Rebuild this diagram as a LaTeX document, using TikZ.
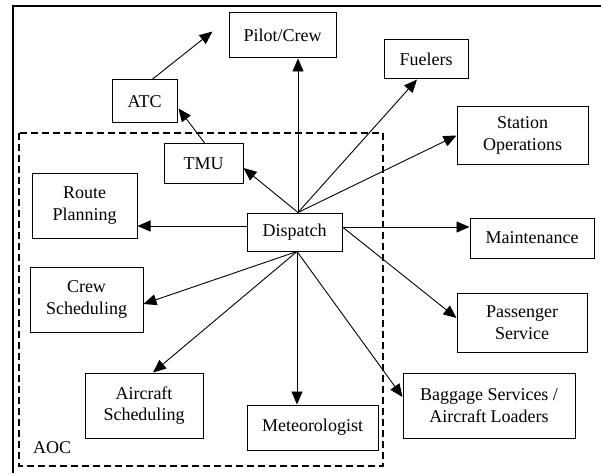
\documentclass[tikz,border=0pt]{standalone}
\usepackage{fontspec}
\setmainfont{Liberation Serif}
\usetikzlibrary{arrows.meta,calc}
\begin{document}
\begin{tikzpicture}[x=1pt,y=-1pt,
  box/.style={draw, line width=1pt, inner sep=0pt, align=center,
    font=\fontsize{18}{21.5}\selectfont},
  arr/.style={line width=0.9pt, -{Triangle[length=13pt,width=11pt]}},
  frame/.style={line width=1.4pt},
  aoc/.style={draw, line width=1.4pt, dash pattern=on 7pt off 4pt}]
\useasboundingbox (0,0) rectangle (601,473);
\draw[frame] (601,6) -- (13,6) -- (13,473);
\draw[aoc] (19,133) rectangle (383,466);
\node[anchor=base west, inner sep=0pt, font=\fontsize{18}{21.5}\selectfont] (aoclbl) at (33,453) {AOC};
% nodes
\node[box, minimum width=107pt, minimum height=45pt] (pilot) at (282.5,35.5) {Pilot/Crew};
\node[box, minimum width=65pt, minimum height=43pt] (atc) at (144.5,101.5) {ATC};
\node[box, minimum width=79pt, minimum height=39pt] (tmu) at (203.5,163.5) {TMU};
\node[box, minimum width=105pt, minimum height=65pt] (route) at (84.5,205.5) {Route\\Planning};
\node[box, minimum width=95pt, minimum height=38pt] (disp) at (294.5,232) {Dispatch};
\node[box, minimum width=84pt, minimum height=39pt] (fuel) at (426,59.5) {Fuelers};
\node[box, minimum width=131pt, minimum height=57pt] (stat) at (522.5,135.5) {Station\\Operations};
\node[box, minimum width=124pt, minimum height=40pt] (maint) at (532,238) {Maintenance};
\node[box, minimum width=130pt, minimum height=59pt] (pass) at (522,322.5) {Passenger\\Service};
\node[box, minimum width=172pt, minimum height=65pt] (bag) at (489,405.5) {Baggage Services /\\Aircraft Loaders};
\node[box, minimum width=131pt, minimum height=45pt] (met) at (312.5,427.5) {Meteorologist};
\node[box, minimum width=118pt, minimum height=65pt] (acs) at (144,405.5) {Aircraft\\Scheduling};
\node[box, minimum width=113pt, minimum height=65pt] (crew) at (86.5,299.5) {Crew\\Scheduling};
% anchor points on Dispatch
\coordinate (dt) at ($(disp.north)+(3.5,0)$);
\coordinate (db) at ($(disp.south)+(2.5,0)$);
\coordinate (dl) at ($(disp.west)+(0,-6)$);
\coordinate (dr) at ($(disp.east)+(0,-5)$);
% connectors
\draw[arr] (dt) -- ($(pilot.south)+(15.5,0)$);
\draw[arr] (dt) -- ($(fuel.south)+(-9,0)$);
\draw[arr] (dt) -- (stat.west);
\draw[arr] (dt) -- ($(tmu.east)+(0,4.5)$);
\draw[arr] (dl) -- ($(route.east)+(0,20.5)$);
\draw[arr] (dr) -- ($(maint.west)+(0,-11)$);
\draw[arr] (dr) -- ($(pass.west)+(0,-4.5)$);
\draw[arr] (db) -- ($(crew.east)+(0,4.5)$);
\draw[arr] (db) -- ($(acs.north)+(9,0)$);
\draw[arr] (db) -- ($(met.north)+(-15.5,0)$);
\draw[arr] (db) -- ($(bag.west)+(0,-8.5)$);
\draw[arr] ($(atc.north)+(7.5,0)$) -- ($(pilot.west)+(-16,-4)$);
\draw[arr] ($(tmu.north)+(1.5,0)$) -- ($(atc.south east)+(1,-15)$);
\end{tikzpicture}
\end{document}
